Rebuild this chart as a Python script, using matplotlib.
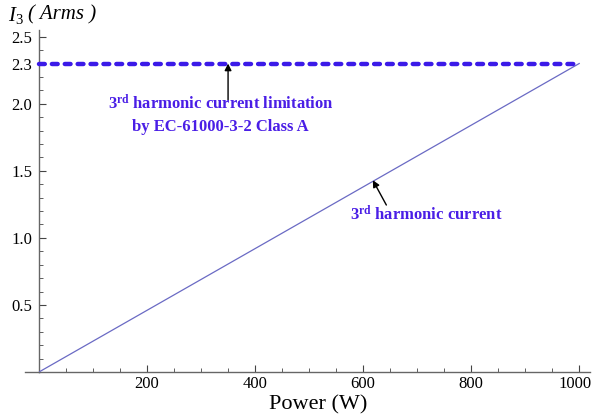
import numpy as np
import matplotlib
matplotlib.use("Agg")
import matplotlib.pyplot as plt
import matplotlib.transforms as mtransforms
from matplotlib.ticker import MultipleLocator, FixedLocator

# Data
power_w = [0, 1000]
i3_arms = [0.0, 2.3]
limit_power = [0, 1000]
limit_arms = [2.3, 2.3]
y_ticks = [0.5, 1.0, 1.5, 2.0, 2.3, 2.5]
y_tick_labels = ["0.5", "1.0", "1.5", "2.0", "2.3", "2.5"]
x_ticks = [200, 400, 600, 800, 1000]

plt.rcParams["font.family"] = ["Liberation Serif", "DejaVu Serif"]
plt.rcParams["mathtext.fontset"] = "custom"
plt.rcParams["mathtext.rm"] = "Liberation Serif"
plt.rcParams["mathtext.it"] = "Liberation Serif:italic"
plt.rcParams["mathtext.bf"] = "Liberation Serif:bold"

fig = plt.figure(figsize=(5.93, 4.17), dpi=100)
ax = fig.add_axes([39 / 593, (417 - 372) / 417, (590 - 39) / 593, (372 - 30) / 417])

ax.set_xlim(0, 1020)
ax.set_ylim(0, 2.55)

line_col = "#6a6ac4"
text_col = "#4a1ee6"
dot_col = "#3b1ae8"

ax.plot(power_w, i3_arms, color=line_col, lw=0.9, zorder=3)
ax.plot(limit_power, limit_arms, color=dot_col, lw=3.2, dashes=(1.3, 1.6),
        dash_capstyle="round", solid_capstyle="round", zorder=4, clip_on=False)

# Axes through the origin
for s in ["top", "right"]:
    ax.spines[s].set_visible(False)
ax.spines["left"].set_position(("data", 0))
ax.spines["bottom"].set_position(("data", 0))
for s in ["left", "bottom"]:
    ax.spines[s].set_color("#666666")
    ax.spines[s].set_linewidth(1.0)

ax.xaxis.set_major_locator(FixedLocator(x_ticks))
ax.xaxis.set_minor_locator(MultipleLocator(50))
ax.yaxis.set_major_locator(FixedLocator(y_ticks))
ax.set_yticklabels(y_tick_labels)
ax.yaxis.set_minor_locator(MultipleLocator(0.1))

ax.tick_params(axis="both", which="major", direction="in", length=5, width=0.8,
               color="#444444", labelsize=12)
ax.tick_params(axis="both", which="minor", direction="in", length=3, width=0.6,
               color="#444444")
ax.tick_params(axis="x", which="major", pad=3)
ax.tick_params(axis="y", which="major", pad=5)

# keep the last x tick label inside the figure
fig.canvas.draw()
last = ax.get_xticklabels()[-1]
last.set_transform(last.get_transform() +
                   mtransforms.ScaledTranslation(-4 / 100, 0, fig.dpi_scale_trans))

# x-axis continues a little to the left of the y-axis
ax.plot([-26, 0], [0, 0], color="#666666", lw=1.0, clip_on=False, zorder=2)

fig.text(8 / 593, 1 - 15 / 417, r"$I_3$", fontsize=15, va="center", ha="left")
fig.text(28 / 593, 1 - 15 / 417, "( Arms )", fontsize=15, style="italic",
         va="center", ha="left")

fig.text(318 / 593, 1 - 405 / 417, "Power (W)", fontsize=16,
         ha="center", va="center")

# Limit annotation
ax.annotate("", xy=(350, 2.3), xytext=(350, 2.03),
            arrowprops=dict(arrowstyle="-|>", color="black", lw=1.0,
                            mutation_scale=10, shrinkA=0, shrinkB=0))
ax.text(336, 1.92, "3$^{\\mathbf{rd}}$ harmonic current limitation\nby EC-61000-3-2 Class A",
        ha="center", va="center", fontsize=12, fontweight="bold",
        color=text_col, linespacing=1.45)

# Current annotation
ax.annotate("", xy=(618, 1.43), xytext=(643, 1.245),
            arrowprops=dict(arrowstyle="-|>", color="black", lw=1.0,
                            mutation_scale=10, shrinkA=0, shrinkB=0))
ax.text(717, 1.17, "3$^{\\mathbf{rd}}$ harmonic current",
        ha="center", va="center", fontsize=12, fontweight="bold",
        color=text_col)

fig.savefig("out.png", dpi=100)
